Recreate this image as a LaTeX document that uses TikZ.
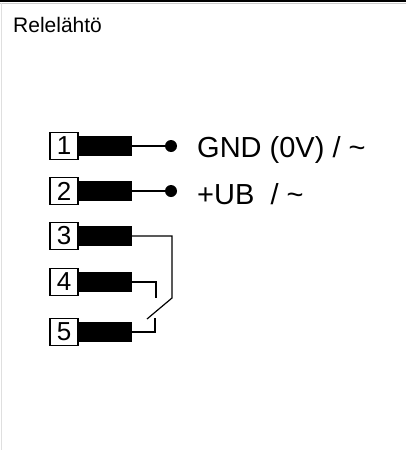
\documentclass[tikz,border=0pt]{standalone}
\usepackage{fontspec}
\setmainfont{Liberation Sans}
\usetikzlibrary{positioning}

\begin{document}
\begin{tikzpicture}[x=1pt, y=-1pt,
    pinbox/.style={
      draw, fill=white, line width=1.3pt, minimum width=28pt, minimum height=27pt,
      inner sep=0pt, font=\fontsize{26}{26}\selectfont
    },
    bar/.style={
      fill=black, minimum width=53pt, minimum height=20pt, inner sep=0pt
    },
    dot/.style={circle, fill=black, minimum size=12pt, inner sep=0pt},
    lbl/.style={font=\fontsize{29}{29}\selectfont, inner sep=0pt},
    wire/.style={line width=1.2pt}
  ]

  % frame
  \useasboundingbox (0,0) rectangle (406,450);
  \draw[line width=1.4pt] (0,1) -- (406,1);
  \draw[gray!40, line width=0.6pt] (0,3) -- (406,3);
  \draw[gray!25, line width=0.8pt] (1,3) -- (1,450);

  % title
  \node[anchor=base west, inner sep=0pt, font=\fontsize{21}{21}\selectfont]
    (title) at (13,32) {Relelähtö};

  % ===== pins with black sleeves =====
  \foreach \n/\y in {1/146, 2/191, 3/236, 4/282, 5/332} {
    \node[pinbox] (pin\n) at (64,\y) {\n};
    \node[bar, right=0pt of pin\n] (bar\n) {};
  }

  % ===== supply terminals =====
  \node[dot] (dot1) at (171,146) {};
  \node[dot] (dot2) at (171,191) {};
  \draw[wire] (bar1.east) -- (dot1);
  \draw[wire] (bar2.east) -- (dot2);
  \node[lbl, anchor=base west] (gnd) at (197,157) {GND (0V) / \textasciitilde};
  \node[lbl, anchor=base west] (ub) at (197,204) {+UB \ / \textasciitilde};

  % ===== relay contact 3-4-5 =====
  \coordinate (c3) at (172,298);
  \coordinate (sw) at (147,319);
  \coordinate (c4) at (156,298);
  \coordinate (c5) at (155,318);
  \draw[wire] (bar3.east) -| (c3) -- (sw);
  \draw[wire] (bar4.east) -| (c4);
  \draw[wire] (bar5.east) -| (c5);

\end{tikzpicture}
\end{document}
